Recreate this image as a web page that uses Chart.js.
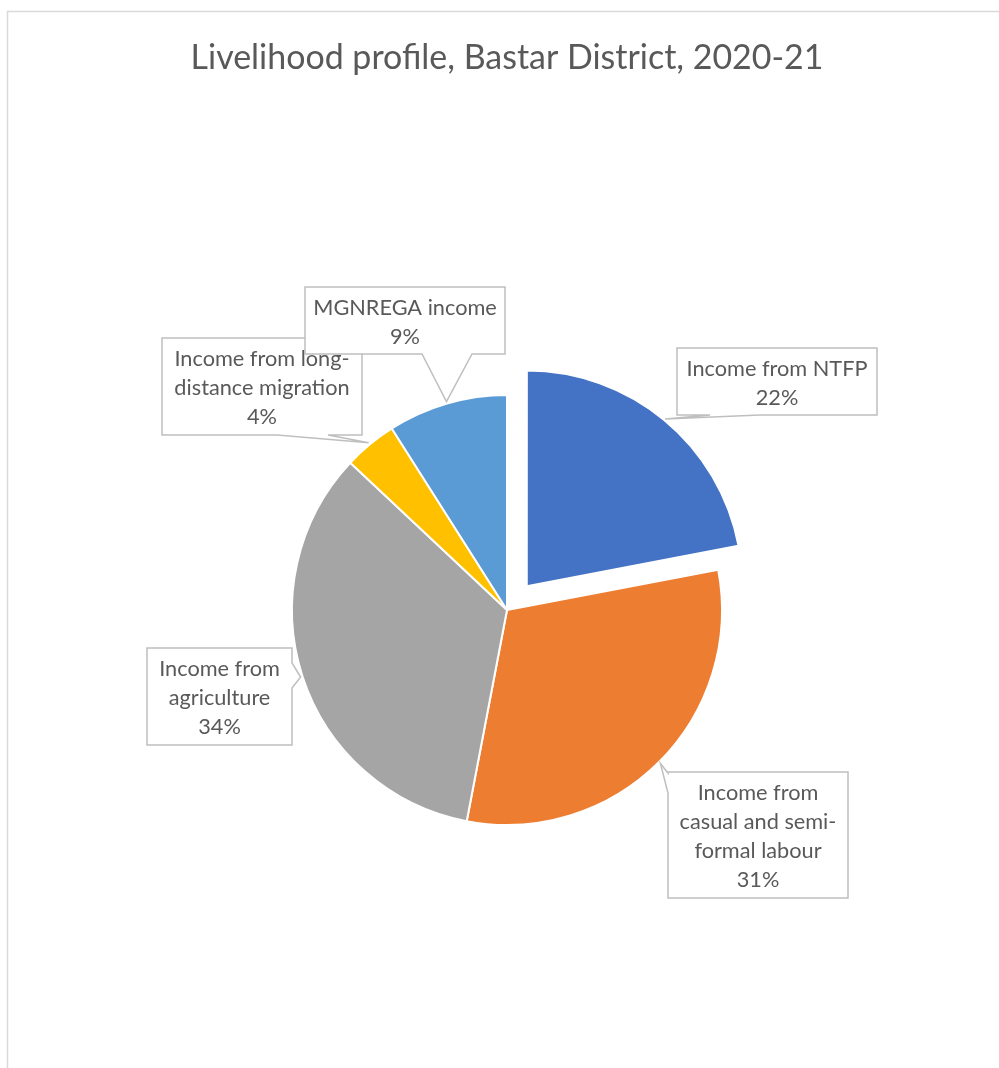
<!DOCTYPE html>
<html><head><meta charset="utf-8">
<script src="https://cdn.jsdelivr.net/npm/chart.js@4/dist/chart.umd.min.js"></script>
<style>html,body{margin:0;padding:0;background:#fff;overflow:hidden}#wrap{width:999px;height:1068px;position:relative}</style>
</head><body><div id="wrap"><canvas id="c"></canvas></div>
<script>
// ---- data ----
const categories = ["Income from NTFP", "Income from casual and semi-formal labour", "Income from agriculture", "Income from long-distance migration", "MGNREGA income"];
const labelLines = [["Income from NTFP"], ["Income from", "casual and semi-", "formal labour"], ["Income from", "agriculture"], ["Income from long-", "distance migration"], ["MGNREGA income"]];
const shares = [22, 31, 34, 4, 9];
const sliceColors = ["#4472C4", "#ED7D31", "#A5A5A5", "#FFC000", "#5B9BD5"];
const explode = [124, 0, 0, 0, 0];
const chartTitle = "Livelihood profile, Bastar District, 2020-21";

// ---- callout layout (annotation boxes) ----
const callouts = [
  {box: [677, 348, 200, 67], side: 'bottom', base: [760, 710]},
  {box: [668, 772, 180, 126], side: 'left', base: [793, 773]},
  {box: [147, 648, 145, 97], side: 'right', base: [663, 688]},
  {box: [162, 338, 200, 97], side: 'bottom', base: [328, 277]},
  {box: [305, 287, 200, 67], side: 'bottom', base: [472, 422]}
];

const FONT = 'Lato, "Open Sans", sans-serif';
const mc = document.createElement('canvas').getContext('2d');
function fitSize(text, target) {
  mc.font = '100px ' + FONT;
  return 100 * target / mc.measureText(text).width;
}
const titleSize = fitSize(chartTitle, 633);
const labelSize = fitSize("Income from NTFP", 181);

const framePlugin = {
  id: 'frame',
  beforeDraw(chart) {
    const ctx = chart.ctx;
    ctx.save();
    ctx.fillStyle = '#fff';
    ctx.fillRect(0, 0, chart.width, chart.height);
    ctx.strokeStyle = '#d9d9d9';
    ctx.lineWidth = 1.5;
    ctx.strokeRect(7.5, 11.5, chart.width + 20, chart.height + 20);
    ctx.restore();
  }
};

function calloutPath(ctx, c, tip) {
  const [x, y, w, h] = c.box; const x2 = x + w, y2 = y + h;
  ctx.beginPath(); ctx.moveTo(x, y);
  ctx.lineTo(x2, y);
  if (c.side === 'right') { ctx.lineTo(x2, c.base[0]); ctx.lineTo(tip.x, tip.y); ctx.lineTo(x2, c.base[1]); }
  ctx.lineTo(x2, y2);
  if (c.side === 'bottom') { ctx.lineTo(c.base[0], y2); ctx.lineTo(tip.x, tip.y); ctx.lineTo(c.base[1], y2); }
  ctx.lineTo(x, y2);
  if (c.side === 'left') { ctx.lineTo(x, c.base[0]); ctx.lineTo(tip.x, tip.y); ctx.lineTo(x, c.base[1]); }
  ctx.closePath();
}

const calloutPlugin = {
  id: 'callouts',
  afterDatasetsDraw(chart) {
    const ctx = chart.ctx;
    const meta = chart.getDatasetMeta(0);
    ctx.save();
    meta.data.forEach((arc, i) => {
      const p = arc.getProps(['x', 'y', 'startAngle', 'endAngle', 'outerRadius'], true);
      const mid = (p.startAngle + p.endAngle) / 2;
      const off = (arc.options.offset || 0) / 4;
      const r = p.outerRadius + 2 + off;
      const tip = {x: p.x + Math.cos(mid) * r, y: p.y + Math.sin(mid) * r};
      const c = callouts[i];
      calloutPath(ctx, c, tip);
      ctx.fillStyle = '#fff';
      ctx.fill();
      ctx.strokeStyle = '#bfbfbf';
      ctx.lineWidth = 1.5;
      ctx.lineJoin = 'miter';
      ctx.stroke();
      const lines = labelLines[i].concat([shares[i] + '%']);
      const lh = 29;
      const cx = c.box[0] + c.box[2] / 2;
      const cy = c.box[1] + c.box[3] / 2 + 1.5;
      ctx.fillStyle = '#595959';
      ctx.font = labelSize.toFixed(2) + 'px ' + FONT;
      ctx.textAlign = 'center';
      ctx.textBaseline = 'middle';
      lines.forEach((t, k) => {
        ctx.fillText(t, cx, cy + (k - (lines.length - 1) / 2) * lh);
      });
    });
    ctx.restore();
  }
};

new Chart(document.getElementById('c'), {
  type: 'pie',
  data: {
    labels: categories,
    datasets: [{
      data: shares,
      backgroundColor: sliceColors,
      borderColor: '#ffffff',
      borderWidth: 2,
      offset: explode
    }]
  },
  options: {
    responsive: true,
    maintainAspectRatio: false,
    animation: false,
    radius: 215,
    layout: {padding: {left: 15, right: 0, top: 0, bottom: 122.4}},
    plugins: {
      legend: {display: false},
      tooltip: {enabled: false},
      title: {
        display: true,
        text: chartTitle,
        color: '#595959',
        font: {family: FONT, size: titleSize, weight: 'normal', lineHeight: 1.2},
        padding: {top: 58 - titleSize * 0.6, bottom: 274.4 - (58 + titleSize * 0.6)}
      }
    }
  },
  plugins: [framePlugin, calloutPlugin]
});
</script>
</body></html>
